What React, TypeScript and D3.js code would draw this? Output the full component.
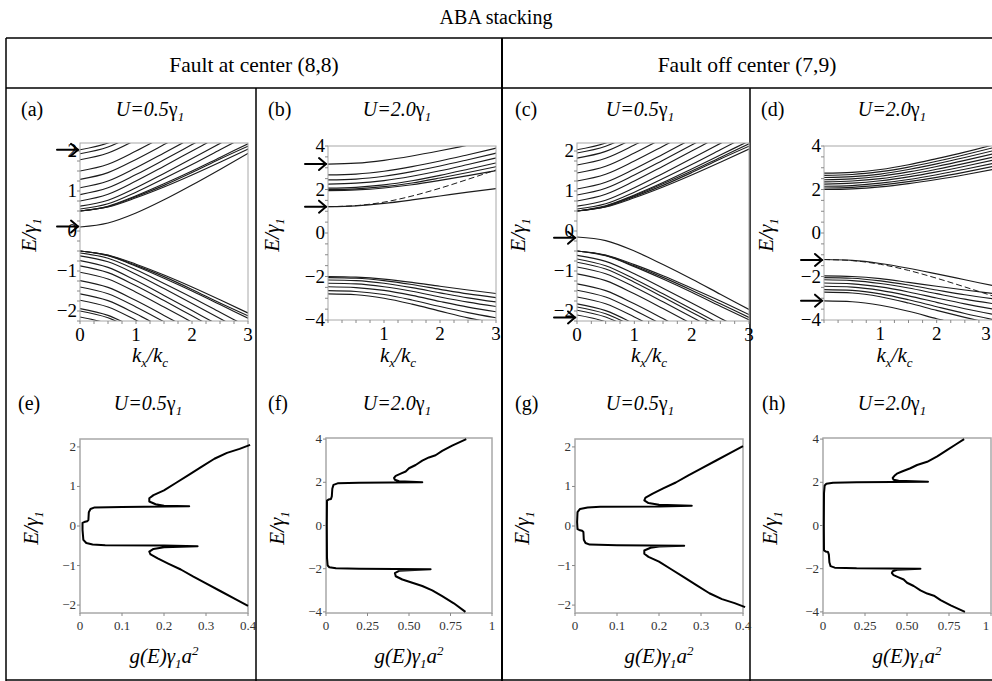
import React from 'react';
import * as d3 from 'd3';

const FONT = "'Liberation Serif', 'Times New Roman', serif";

// band structure samples at these kx/kc values
const kGrid = [0, 0.5, 1, 1.5, 2, 2.5, 3];

const bandsA = [
  [2.03, 2.2, 2.53, 2.9, 3.28, 3.66, 4.03],
  [1.93, 2.1, 2.43, 2.8, 3.18, 3.56, 3.93],
  [1.78, 1.95, 2.28, 2.65, 3.03, 3.41, 3.78],
  [1.5, 1.67, 2.0, 2.37, 2.75, 3.13, 3.5],
  [1.29, 1.46, 1.79, 2.16, 2.54, 2.92, 3.29],
  [1.08, 1.25, 1.58, 1.95, 2.33, 2.71, 3.08],
  [0.91, 1.08, 1.41, 1.78, 2.16, 2.54, 2.91],
  [0.75, 0.92, 1.25, 1.62, 2.0, 2.38, 2.75],
  [0.62, 0.77, 1.08, 1.44, 1.81, 2.19, 2.56],
  [0.55, 0.68, 0.97, 1.31, 1.66, 2.03, 2.4],
  [0.5, 0.62, 0.88, 1.18, 1.5, 1.84, 2.18],
  [0.5, 0.61, 0.86, 1.14, 1.46, 1.8, 2.12],
  [0.5, 0.6, 0.83, 1.1, 1.4, 1.72, 2.05],
  [0.1, 0.2, 0.45, 0.78, 1.15, 1.54, 1.94],
  [-0.5, -0.62, -0.88, -1.18, -1.5, -1.84, -2.18],
  [-0.5, -0.61, -0.86, -1.14, -1.46, -1.8, -2.12],
  [-0.5, -0.6, -0.83, -1.1, -1.4, -1.72, -2.05],
  [-0.55, -0.68, -0.97, -1.31, -1.66, -2.03, -2.4],
  [-0.62, -0.77, -1.08, -1.44, -1.81, -2.19, -2.56],
  [-0.74, -0.91, -1.24, -1.61, -1.99, -2.37, -2.74],
  [-0.87, -1.04, -1.37, -1.74, -2.12, -2.5, -2.87],
  [-1.03, -1.2, -1.53, -1.9, -2.28, -2.66, -3.03],
  [-1.24, -1.41, -1.74, -2.11, -2.49, -2.87, -3.24],
  [-1.4, -1.57, -1.9, -2.27, -2.65, -3.03, -3.4],
  [-1.57, -1.74, -2.07, -2.44, -2.82, -3.2, -3.57],
  [-1.73, -1.9, -2.23, -2.6, -2.98, -3.36, -3.73],
  [-1.94, -2.11, -2.44, -2.81, -3.19, -3.57, -3.94],
  [-2.0, -2.17, -2.5, -2.87, -3.25, -3.63, -4.0],
  [-2.15, -2.32, -2.65, -3.02, -3.4, -3.78, -4.15],
];

const bandsB = [
  [3.17, 3.21, 3.34, 3.54, 3.78, 4.04, 4.3],
  [2.67, 2.71, 2.84, 3.05, 3.31, 3.6, 3.9],
  [2.44, 2.48, 2.61, 2.82, 3.08, 3.37, 3.67],
  [2.25, 2.29, 2.41, 2.61, 2.86, 3.15, 3.45],
  [2.06, 2.1, 2.21, 2.4, 2.65, 2.93, 3.22],
  [2.0, 2.03, 2.13, 2.3, 2.53, 2.78, 3.05],
  [1.95, 1.98, 2.07, 2.22, 2.42, 2.64, 2.87],
  [1.21, 1.25, 1.36, 1.52, 1.7, 1.88, 2.04],
  [-2.0, -2.03, -2.12, -2.27, -2.45, -2.62, -2.78],
  [-2.05, -2.08, -2.19, -2.37, -2.59, -2.8, -2.97],
  [-2.16, -2.19, -2.31, -2.51, -2.75, -2.98, -3.17],
  [-2.31, -2.34, -2.47, -2.68, -2.94, -3.18, -3.38],
  [-2.47, -2.51, -2.64, -2.87, -3.15, -3.41, -3.62],
  [-2.65, -2.69, -2.83, -3.08, -3.38, -3.66, -3.9],
  [-2.8, -2.84, -3.0, -3.27, -3.59, -3.9, -4.15],
];
const dashedB = [[1.21, 1.26, 1.42, 1.7, 2.06, 2.47, 2.9]];

const bandsC = [
  [2.03, 2.2, 2.53, 2.9, 3.28, 3.66, 4.03],
  [1.95, 2.12, 2.45, 2.82, 3.2, 3.58, 3.95],
  [1.82, 1.99, 2.32, 2.69, 3.07, 3.45, 3.82],
  [1.65, 1.82, 2.15, 2.52, 2.9, 3.28, 3.65],
  [1.45, 1.62, 1.95, 2.32, 2.7, 3.08, 3.45],
  [1.25, 1.42, 1.75, 2.12, 2.5, 2.88, 3.25],
  [1.05, 1.22, 1.55, 1.92, 2.3, 2.68, 3.05],
  [0.9, 1.07, 1.4, 1.77, 2.15, 2.53, 2.9],
  [0.75, 0.92, 1.25, 1.62, 2.0, 2.38, 2.75],
  [0.62, 0.77, 1.08, 1.44, 1.81, 2.19, 2.56],
  [0.55, 0.68, 0.97, 1.31, 1.66, 2.03, 2.4],
  [0.5, 0.63, 0.9, 1.21, 1.55, 1.9, 2.25],
  [0.5, 0.62, 0.88, 1.18, 1.5, 1.84, 2.18],
  [0.5, 0.61, 0.86, 1.14, 1.46, 1.8, 2.12],
  [0.5, 0.6, 0.83, 1.1, 1.4, 1.72, 2.05],
  [-0.15, -0.24, -0.5, -0.84, -1.2, -1.58, -1.96],
  [-0.5, -0.62, -0.89, -1.2, -1.53, -1.88, -2.22],
  [-0.5, -0.61, -0.87, -1.16, -1.48, -1.82, -2.16],
  [-0.5, -0.6, -0.84, -1.12, -1.43, -1.75, -2.09],
  [-0.61, -0.76, -1.07, -1.43, -1.8, -2.18, -2.55],
  [-0.7, -0.87, -1.2, -1.57, -1.95, -2.33, -2.7],
  [-0.78, -0.95, -1.28, -1.65, -2.03, -2.41, -2.78],
  [-0.9, -1.07, -1.4, -1.77, -2.15, -2.53, -2.9],
  [-1.07, -1.24, -1.57, -1.94, -2.32, -2.7, -3.07],
  [-1.32, -1.49, -1.82, -2.19, -2.57, -2.95, -3.32],
  [-1.48, -1.65, -1.98, -2.35, -2.73, -3.11, -3.48],
  [-1.65, -1.82, -2.15, -2.52, -2.9, -3.28, -3.65],
  [-1.82, -1.99, -2.32, -2.69, -3.07, -3.45, -3.82],
  [-1.9, -2.07, -2.4, -2.77, -3.15, -3.53, -3.9],
  [-1.98, -2.15, -2.48, -2.85, -3.23, -3.61, -3.98],
  [-2.1, -2.27, -2.6, -2.97, -3.35, -3.73, -4.1],
];

const bandsD = [
  [2.75, 2.79, 2.92, 3.14, 3.42, 3.72, 4.05],
  [2.65, 2.69, 2.82, 3.03, 3.3, 3.6, 3.92],
  [2.55, 2.59, 2.71, 2.92, 3.18, 3.47, 3.78],
  [2.45, 2.49, 2.61, 2.81, 3.06, 3.34, 3.64],
  [2.35, 2.39, 2.5, 2.69, 2.93, 3.2, 3.49],
  [2.25, 2.29, 2.4, 2.58, 2.81, 3.07, 3.35],
  [2.15, 2.18, 2.29, 2.46, 2.68, 2.93, 3.2],
  [2.07, 2.1, 2.2, 2.36, 2.56, 2.8, 3.06],
  [2.0, 2.03, 2.12, 2.27, 2.46, 2.68, 2.92],
  [-1.22, -1.26, -1.4, -1.62, -1.88, -2.15, -2.42],
  [-1.97, -2.0, -2.1, -2.27, -2.45, -2.62, -2.78],
  [-2.05, -2.08, -2.2, -2.39, -2.62, -2.84, -3.02],
  [-2.15, -2.19, -2.32, -2.53, -2.79, -3.04, -3.25],
  [-2.3, -2.34, -2.48, -2.71, -2.99, -3.26, -3.5],
  [-2.45, -2.49, -2.64, -2.89, -3.19, -3.48, -3.74],
  [-2.6, -2.64, -2.8, -3.07, -3.39, -3.7, -3.98],
  [-2.72, -2.76, -2.93, -3.22, -3.56, -3.88, -4.18],
  [-3.12, -3.16, -3.32, -3.6, -3.94, -4.27, -4.57],
];
const dashedD = [[-1.22, -1.27, -1.44, -1.72, -2.08, -2.48, -2.9]];

const arrowsA = [2.03, 0.11];
const arrowsB = [3.17, 1.21];
const arrowsC = [-0.17, -2.16];
const arrowsD = [-1.24, -3.11];

// density of states, [g, E] pairs ordered along the curve
const dosE: [number, number][] = [
  [0.4, -2.02], [0.37, -1.85], [0.335, -1.65], [0.3, -1.45], [0.27, -1.28], [0.24, -1.1],
  [0.21, -0.95], [0.185, -0.82], [0.168, -0.72], [0.165, -0.65], [0.175, -0.58], [0.2, -0.54],
  [0.28, -0.51], [0.2, -0.495], [0.06, -0.485], [0.03, -0.47], [0.015, -0.43], [0.008, -0.35],
  [0.006, -0.1], [0.006, 0.08], [0.01, 0.1], [0.017, 0.12], [0.02, 0.15], [0.021, 0.35],
  [0.025, 0.43], [0.035, 0.47], [0.1, 0.48], [0.26, 0.5], [0.2, 0.51], [0.18, 0.55],
  [0.165, 0.62], [0.165, 0.7], [0.175, 0.78], [0.2, 0.9], [0.23, 1.1], [0.26, 1.3],
  [0.29, 1.5], [0.32, 1.7], [0.35, 1.85], [0.38, 1.95], [0.405, 2.05],
];
const dosF: [number, number][] = [
  [0.84, -4.0], [0.77, -3.6], [0.7, -3.27], [0.64, -3.0], [0.58, -2.8], [0.52, -2.65],
  [0.46, -2.5], [0.42, -2.35], [0.415, -2.2], [0.44, -2.1], [0.63, -2.02], [0.2, -2.0],
  [0.06, -1.98], [0.02, -1.93], [0.01, -1.85], [0.006, -1.5], [0.005, 0], [0.006, 1.15],
  [0.015, 1.2], [0.03, 1.23], [0.035, 1.35], [0.038, 1.7], [0.045, 1.88], [0.07, 1.95],
  [0.2, 1.98], [0.58, 2.0], [0.44, 2.05], [0.415, 2.12], [0.41, 2.2], [0.42, 2.3],
  [0.45, 2.4], [0.48, 2.5], [0.5, 2.65], [0.54, 2.8], [0.58, 3.0], [0.62, 3.15],
  [0.66, 3.25], [0.7, 3.45], [0.76, 3.7], [0.845, 4.0],
];
const dosG: [number, number][] = [
  [0.405, -2.05], [0.38, -1.95], [0.35, -1.85], [0.32, -1.7], [0.29, -1.5], [0.26, -1.3],
  [0.23, -1.1], [0.2, -0.9], [0.175, -0.78], [0.165, -0.7], [0.165, -0.62], [0.18, -0.55],
  [0.2, -0.52], [0.26, -0.5], [0.1, -0.485], [0.035, -0.47], [0.025, -0.43], [0.021, -0.35],
  [0.02, -0.15], [0.017, -0.12], [0.01, -0.1], [0.006, -0.08], [0.005, 0.1], [0.006, 0.35],
  [0.012, 0.43], [0.03, 0.47], [0.06, 0.485], [0.2, 0.495], [0.278, 0.51], [0.2, 0.54],
  [0.175, 0.58], [0.165, 0.65], [0.168, 0.72], [0.185, 0.82], [0.21, 0.95], [0.24, 1.1],
  [0.27, 1.28], [0.3, 1.45], [0.335, 1.65], [0.37, 1.85], [0.4, 2.02],
];
const dosH: [number, number][] = [
  [0.845, -4.0], [0.76, -3.7], [0.7, -3.45], [0.66, -3.25], [0.62, -3.15], [0.58, -3.0],
  [0.54, -2.8], [0.5, -2.65], [0.48, -2.5], [0.45, -2.4], [0.42, -2.3], [0.41, -2.2],
  [0.415, -2.12], [0.44, -2.05], [0.58, -2.0], [0.2, -1.98], [0.07, -1.95], [0.045, -1.88],
  [0.038, -1.7], [0.035, -1.35], [0.03, -1.23], [0.015, -1.2], [0.006, -1.15], [0.005, 0],
  [0.006, 1.5], [0.01, 1.85], [0.02, 1.93], [0.06, 1.98], [0.2, 2.0], [0.625, 2.02],
  [0.45, 2.07], [0.42, 2.12], [0.415, 2.2], [0.425, 2.3], [0.44, 2.4], [0.47, 2.5],
  [0.52, 2.65], [0.56, 2.8], [0.62, 2.95], [0.68, 3.2], [0.74, 3.5], [0.79, 3.75], [0.84, 4.0],
];

const eTicksSmall = [-2, -1, 0, 1, 2];
const eTicksLarge = [-4, -2, 0, 2, 4];
const kTicksFull = [0, 1, 2, 3];
const kTicksNoZero = [1, 2, 3];
const gTicksSmall = [0, 0.1, 0.2, 0.3, 0.4];
const gTicksLarge = [0, 0.25, 0.5, 0.75, 1];
const gLabelsLarge = ['0', '0.25', '0.50', '0.75', '1'];

const fmt = (v: number) => (v < 0 ? '\u2212' + Math.abs(v) : String(v));

// keep labels at the right edge of the page readable
const edgeX = (x: number) => Math.min(x, 986);

const bandPanels = [
  { id: 'a', tag: '(a)', u: '0.5', x0: 80, x1: 248, y0: 143, y1: 321, yDom: [-2.25, 2.2], bands: bandsA, dashed: [], yTicks: eTicksSmall, minor: 0.25, xTicks: kTicksFull, arrows: arrowsA, tagX: 21, uX: 150, eX: 29 },
  { id: 'b', tag: '(b)', u: '2.0', x0: 328, x1: 496, y0: 146, y1: 320, yDom: [-4, 4], bands: bandsB, dashed: dashedB, yTicks: eTicksLarge, minor: 0.5, xTicks: kTicksNoZero, arrows: arrowsB, tagX: 268, uX: 397, eX: 272 },
  { id: 'c', tag: '(c)', u: '0.5', x0: 577, x1: 749, y0: 143, y1: 321, yDom: [-2.25, 2.2], bands: bandsC, dashed: [], yTicks: eTicksSmall, minor: 0.25, xTicks: kTicksFull, arrows: arrowsC, tagX: 515, uX: 640, eX: 518 },
  { id: 'd', tag: '(d)', u: '2.0', x0: 824, x1: 993, y0: 146, y1: 320, yDom: [-4, 4], bands: bandsD, dashed: dashedD, yTicks: eTicksLarge, minor: 0.5, xTicks: kTicksNoZero, arrows: arrowsD, tagX: 761, uX: 892, eX: 766 },
];

const dosPanels = [
  { id: 'e', tag: '(e)', u: '0.5', x0: 80, x1: 248, y0: 439, y1: 613, eDom: [-2.2, 2.2], gDom: [0, 0.4], pts: dosE, yTicks: eTicksSmall, xTicks: gTicksSmall, xLabels: gTicksSmall.map(String), tagX: 18, uX: 148, eX: 31 },
  { id: 'f', tag: '(f)', u: '2.0', x0: 326, x1: 492, y0: 438, y1: 613, eDom: [-4.05, 4.05], gDom: [0, 1], pts: dosF, yTicks: eTicksLarge, xTicks: gTicksLarge, xLabels: gLabelsLarge, tagX: 268, uX: 397, eX: 277 },
  { id: 'g', tag: '(g)', u: '0.5', x0: 575, x1: 743, y0: 439, y1: 613, eDom: [-2.2, 2.2], gDom: [0, 0.4], pts: dosG, yTicks: eTicksSmall, xTicks: gTicksSmall, xLabels: gTicksSmall.map(String), tagX: 515, uX: 640, eX: 522 },
  { id: 'h', tag: '(h)', u: '2.0', x0: 823, x1: 991, y0: 438, y1: 613, eDom: [-4.05, 4.05], gDom: [0, 1], pts: dosH, yTicks: eTicksLarge, xTicks: gTicksLarge, xLabels: gLabelsLarge, tagX: 762, uX: 892, eX: 770 },
];

const UText = ({ x, y, u }: any) => (
  <text x={x} y={y} textAnchor="middle" fontSize={20} fontFamily={FONT}>
    <tspan fontStyle="italic">U=</tspan>
    <tspan fontStyle="italic">{u}</tspan>
    <tspan>γ</tspan>
    <tspan fontStyle="italic" fontSize={13} dy={5}>1</tspan>
  </text>
);

const ETitle = ({ x, y }: any) => (
  <text transform={`translate(${x},${y}) rotate(-90)`} textAnchor="middle" fontSize={21} fontStyle="italic" fontFamily={FONT}>
    E/γ<tspan fontSize={13} dy={5}>1</tspan>
  </text>
);

function BandPanel(p: any) {
  const x = d3.scaleLinear().domain([0, 3]).range([p.x0, p.x1]);
  const y = d3.scaleLinear().domain(p.yDom).range([p.y1, p.y0]);
  const line = d3.line<number>().x((_, i) => x(kGrid[i])).y(d => y(d)).curve(d3.curveMonotoneX);
  const minorY = d3.range(Math.ceil(p.yDom[0] / p.minor) * p.minor, p.yDom[1] + 1e-9, p.minor);
  const minorX = d3.range(0, 3.001, 0.25);
  const cx = (p.x0 + p.x1) / 2;
  return (
    <g>
      <clipPath id={`clip-${p.id}`}>
        <rect x={p.x0} y={p.y0} width={p.x1 - p.x0} height={p.y1 - p.y0} />
      </clipPath>
      <g clipPath={`url(#clip-${p.id})`} fill="none" stroke="#1c1c1c" strokeWidth={1.15}>
        {p.bands.map((b: number[], i: number) => <path key={i} d={line(b) || ''} />)}
        {p.dashed.map((b: number[], i: number) => <path key={'d' + i} d={line(b) || ''} strokeDasharray="6,3" strokeWidth={1} />)}
      </g>
      <rect x={p.x0} y={p.y0} width={p.x1 - p.x0} height={p.y1 - p.y0} fill="none" stroke="#a8a8a8" strokeWidth={1} />
      {minorY.map((v: number, i: number) => (
        <line key={'my' + i} x1={p.x0 - 3} x2={p.x0} y1={y(v)} y2={y(v)} stroke="#888" />
      ))}
      {minorX.map((v: number, i: number) => (
        <line key={'mx' + i} x1={x(v)} x2={x(v)} y1={p.y1} y2={p.y1 + 3} stroke="#888" />
      ))}
      {p.yTicks.map((v: number) => (
        <text key={'yt' + v} x={p.x0 - 3} y={y(v) + 6} textAnchor="end" fontSize={19} fontFamily={FONT}>{fmt(v)}</text>
      ))}
      {p.xTicks.map((v: number) => (
        <text key={'xt' + v} x={edgeX(x(v))} y={p.y1 + 20} textAnchor="middle" fontSize={19} fontFamily={FONT}>{v}</text>
      ))}
      {p.arrows.map((v: number, i: number) => (
        <g key={'ar' + i} stroke="#000" strokeWidth={2} fill="none" strokeLinecap="round">
          <line x1={p.x0 - 23} x2={p.x0 - 2} y1={y(v)} y2={y(v)} />
          <polyline points={`${p.x0 - 9},${y(v) - 6} ${p.x0 - 2},${y(v)} ${p.x0 - 9},${y(v) + 6}`} />
        </g>
      ))}
      <text x={p.tagX} y={116} fontSize={20} fontFamily={FONT}>{p.tag}</text>
      <UText x={p.uX} y={116} u={p.u} />
      <ETitle x={p.eX + 7} y={235} />
      <text x={cx - 14} y={362} textAnchor="middle" fontSize={21} fontStyle="italic" fontFamily={FONT}>
        k<tspan fontSize={13} dy={5}>x</tspan><tspan dy={-5}>/k</tspan><tspan fontSize={13} dy={5}>c</tspan>
      </text>
    </g>
  );
}

function DosPanel(p: any) {
  const x = d3.scaleLinear().domain(p.gDom).range([p.x0, p.x1]);
  const y = d3.scaleLinear().domain(p.eDom).range([p.y1, p.y0]);
  const line = d3.line<[number, number]>().x(d => x(d[0])).y(d => y(d[1]));
  const cx = (p.x0 + p.x1) / 2;
  return (
    <g>
      <rect x={p.x0} y={p.y0} width={p.x1 - p.x0} height={p.y1 - p.y0} fill="none" stroke="#a8a8a8" strokeWidth={1.5} />
      <path d={line(p.pts) || ''} fill="none" stroke="#000" strokeWidth={2} strokeLinejoin="round" />
      {p.yTicks.map((v: number) => (
        <g key={'yt' + v}>
          <line x1={p.x0 - 3} x2={p.x0} y1={y(v)} y2={y(v)} stroke="#888" />
          <text x={p.x0 - 4} y={y(v) + 4} textAnchor="end" fontSize={13} fill="#333" fontFamily={FONT}>{fmt(v)}</text>
        </g>
      ))}
      {p.xTicks.map((v: number, i: number) => (
        <g key={'xt' + v}>
          <line x1={x(v)} x2={x(v)} y1={p.y1} y2={p.y1 + 3} stroke="#888" />
          <text x={edgeX(x(v))} y={p.y1 + 17} textAnchor="middle" fontSize={13} fill="#333" fontFamily={FONT}>{p.xLabels[i]}</text>
        </g>
      ))}
      <text x={p.tagX} y={410} fontSize={20} fontFamily={FONT}>{p.tag}</text>
      <UText x={p.uX} y={410} u={p.u} />
      <ETitle x={p.eX + 7} y={528} />
      <text x={cx} y={663} textAnchor="middle" fontSize={21} fontStyle="italic" fontFamily={FONT}>
        g(E)γ<tspan fontSize={13} dy={5}>1</tspan><tspan dy={-5}>a</tspan><tspan fontSize={13} dy={-8}>2</tspan>
      </text>
    </g>
  );
}

export default function App() {
  return (
    <svg width={992} height={681} style={{ position: 'absolute', left: 0, top: 0, background: '#fff' }} fontFamily={FONT}>
      <rect width={992} height={681} fill="#fff" />
      <text x={496} y={24} textAnchor="middle" fontSize={20}>ABA stacking</text>
      <g stroke="#000" strokeWidth={1.5}>
        <line x1={6} x2={992} y1={38} y2={38} />
        <line x1={6} x2={992} y1={88} y2={88} />
        <line x1={6} x2={6} y1={38} y2={681} />
        <line x1={502} x2={502} y1={38} y2={681} strokeWidth={2} />
        <line x1={256} x2={256} y1={88} y2={681} />
        <line x1={750} x2={750} y1={88} y2={681} />
        <line x1={6} x2={992} y1={680} y2={680} />
      </g>
      <text x={254} y={72} textAnchor="middle" fontSize={21.5}>Fault at center (8,8)</text>
      <text x={747} y={72} textAnchor="middle" fontSize={21.5}>Fault off center (7,9)</text>
      {bandPanels.map(p => <BandPanel key={p.id} {...p} />)}
      {dosPanels.map(p => <DosPanel key={p.id} {...p} />)}
    </svg>
  );
}
